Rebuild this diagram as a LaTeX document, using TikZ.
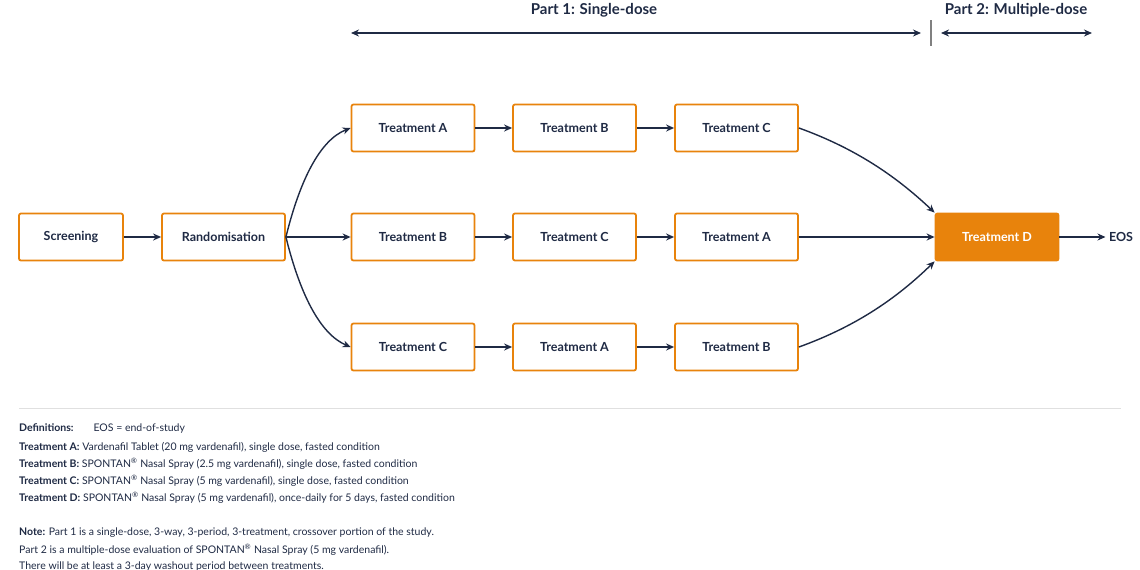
\documentclass[tikz,border=0pt]{standalone}
\usepackage{fontspec}
\setmainfont{Lato}
\usetikzlibrary{arrows.meta}
\definecolor{navy}{HTML}{1F2A44}
\definecolor{org}{HTML}{E8830C}
\begin{document}
\begin{tikzpicture}[x=1pt,y=-1pt,
  box/.style={draw=org,line width=1.8pt,rounded corners=2pt,minimum width=123pt,minimum height=47pt,font=\fontsize{12.5}{14}\selectfont\bfseries,text=navy,fill=white},
  tip/.style={Stealth[length=8pt,width=7pt]},
  arr/.style={-{Stealth[length=8pt,width=7pt]},navy,line width=1.4pt},
  txt/.style={anchor=west,font=\fontsize{10.5}{12}\selectfont,text=navy,inner sep=0pt}]
\useasboundingbox (0,0) rectangle (1140,570);
\node[box,minimum width=104pt] (scr) at (71,237) {Screening};
\node[box] (rnd) at (223.5,237) {Randomisation};
\node[box] (a1) at (413,128) {Treatment A};
\node[box] (a2) at (574.5,128) {Treatment B};
\node[box] (a3) at (736.5,128) {Treatment C};
\node[box] (b1) at (413,237) {Treatment B};
\node[box] (b2) at (574.5,237) {Treatment C};
\node[box] (b3) at (736.5,237) {Treatment A};
\node[box] (c1) at (413,347) {Treatment C};
\node[box] (c2) at (574.5,347) {Treatment A};
\node[box] (c3) at (736.5,347) {Treatment B};
\node[box,fill=org,text=white] (d) at (997,237) {Treatment D};
\node[font=\fontsize{12.5}{14}\selectfont\bfseries,text=navy] (eos) at (1121,237) {EOS};
\draw[arr] (scr) -- (rnd);
\draw[arr] (rnd.east) .. controls (300,180) and (320,140) .. (a1.west);
\draw[arr] (rnd) -- (b1);
\draw[arr] (rnd.east) .. controls (300,294) and (320,334) .. (c1.west);
\draw[arr] (a1) -- (a2); \draw[arr] (a2) -- (a3);
\draw[arr] (b1) -- (b2); \draw[arr] (b2) -- (b3);
\draw[arr] (c1) -- (c2); \draw[arr] (c2) -- (c3);
\draw[arr] (a3.east) .. controls (860,150) and (900,180) .. (d.north west);
\draw[arr] (b3) -- (d);
\draw[arr] (c3.east) .. controls (860,325) and (900,295) .. (d.south west);
\draw[arr] (d) -- (eos);
% top
\coordinate (p1l) at (351,33); \coordinate (p1r) at (921,33);
\coordinate (p2l) at (941,33); \coordinate (p2r) at (1092,33);
\draw[{Stealth[length=8pt,width=7pt]}-{Stealth[length=8pt,width=7pt]},navy,line width=1.4pt] (p1l) -- (p1r);
\draw[{Stealth[length=8pt,width=7pt]}-{Stealth[length=8pt,width=7pt]},navy,line width=1.4pt] (p2l) -- (p2r);
\coordinate (s1) at (931,20); \coordinate (s2) at (931,46);
\draw[gray,line width=1.2pt] (s1) -- (s2);
\node[font=\fontsize{15}{17}\selectfont\bfseries,text=navy] (t1) at (594,10) {Part 1: Single-dose};
\node[font=\fontsize{15}{17}\selectfont\bfseries,text=navy] (t2) at (1016,10) {Part 2: Multiple-dose};
\coordinate (h1) at (19,408); \coordinate (h2) at (1121,408);
\draw[black!12,line width=0.8pt] (h1) -- (h2);
\node[txt] (l0) at (19,428) {\textbf{Definitions:}\hspace{20pt}EOS = end-of-study};
\node[txt] (l1) at (19,447) {\textbf{Treatment A:} Vardenafil Tablet (20 mg vardenafil), single dose, fasted condition};
\node[txt] (l2) at (19,464) {\textbf{Treatment B:} SPONTAN\textsuperscript{®} Nasal Spray (2.5 mg vardenafil), single dose, fasted condition};
\node[txt] (l3) at (19,481) {\textbf{Treatment C:} SPONTAN\textsuperscript{®} Nasal Spray (5 mg vardenafil), single dose, fasted condition};
\node[txt] (l4) at (19,498) {\textbf{Treatment D:} SPONTAN\textsuperscript{®} Nasal Spray (5 mg vardenafil), once-daily for 5 days, fasted condition};
\node[txt] (l5) at (19,533) {\textbf{Note:} Part 1 is a single-dose, 3-way, 3-period, 3-treatment, crossover portion of the study.};
\node[txt] (l6) at (19,550) {Part 2 is a multiple-dose evaluation of SPONTAN\textsuperscript{®} Nasal Spray (5 mg vardenafil).};
\node[txt] (l7) at (19,567) {There will be at least a 3-day washout period between treatments.};
\end{tikzpicture}
\end{document}
